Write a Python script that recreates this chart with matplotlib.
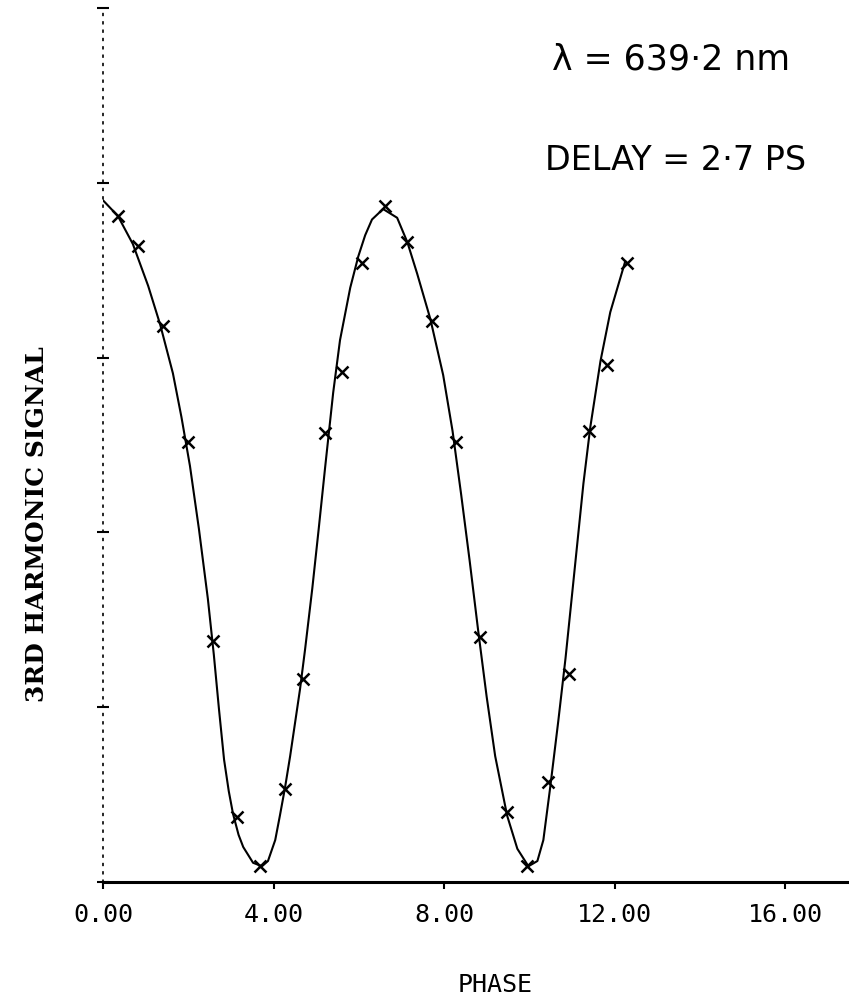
import matplotlib
matplotlib.use("Agg")
import matplotlib.pyplot as plt

# fitted curve (phase, signal)
curve_phase = [0.00, 0.35, 0.70, 1.06, 1.34, 1.64, 1.84, 2.04, 2.25, 2.46, 2.60,
               2.72, 2.84, 2.95, 3.05, 3.18, 3.29, 3.52, 3.73, 3.87, 4.04, 4.15,
               4.27, 4.39, 4.62, 4.74, 4.91, 5.06, 5.21, 5.40, 5.56, 5.80, 5.99,
               6.15, 6.31, 6.57, 6.90, 7.14, 7.37, 7.68, 7.98, 8.20, 8.40, 8.60,
               8.80, 9.00, 9.20, 9.48, 9.72, 9.98, 10.19, 10.33, 10.49, 10.68,
               10.85, 11.01, 11.27, 11.43, 11.67, 11.90, 12.25]
curve_signal = [3.90, 3.81, 3.65, 3.41, 3.19, 2.91, 2.66, 2.38, 2.02, 1.62, 1.30,
                0.99, 0.70, 0.52, 0.39, 0.27, 0.20, 0.11, 0.09, 0.12, 0.24, 0.38,
                0.54, 0.72, 1.10, 1.33, 1.68, 2.02, 2.37, 2.80, 3.10, 3.40, 3.58,
                3.70, 3.79, 3.85, 3.80, 3.66, 3.48, 3.22, 2.90, 2.58, 2.22, 1.84,
                1.44, 1.06, 0.72, 0.38, 0.19, 0.09, 0.12, 0.24, 0.54, 0.92,
                1.28, 1.66, 2.28, 2.60, 2.98, 3.26, 3.55]

# measured points (x markers)
meas_phase = [0.35, 0.82, 1.41, 2.00, 2.58, 3.15, 3.69, 4.27, 4.69, 5.21, 5.61,
              6.08, 6.62, 7.14, 7.72, 8.29, 8.85, 9.48, 9.95, 10.45, 10.92,
              11.41, 11.83, 12.30]
meas_signal = [3.81, 3.64, 3.18, 2.52, 1.38, 0.37, 0.09, 0.53, 1.16, 2.57, 2.92,
               3.54, 3.87, 3.66, 3.21, 2.52, 1.40, 0.40, 0.09, 0.57, 1.19,
               2.58, 2.96, 3.54]

xtick_values = [0, 4, 8, 12, 16]
xtick_labels = ["0.00", "4.00", "8.00", "12.00", "16.00"]
ytick_values = [0, 1, 2, 3, 4, 5]

W, H = 849, 1007
fig = plt.figure(figsize=(W / 100, H / 100), dpi=100)
ax = fig.add_axes([103 / W, 1 - 882 / H, 1 - 103 / W, (882 - 8) / H])

ax.plot(curve_phase, curve_signal, color="black", lw=1.5)
ax.plot(meas_phase, meas_signal, ls="none", marker="x", ms=8, mew=1.8,
        color="black")

ax.set_xlim(0, 17.5)
ax.set_ylim(0, 5)

ax.spines["top"].set_visible(False)
ax.spines["right"].set_visible(False)
ax.spines["bottom"].set_linewidth(2.2)
ax.spines["left"].set_linewidth(1.2)
ax.spines["left"].set_linestyle((0, (1, 4)))

ax.set_xticks(xtick_values)
ax.set_xticklabels(xtick_labels, family="DejaVu Sans Mono", fontsize=18)
ax.set_yticks(ytick_values)
ax.set_yticklabels([])
ax.tick_params(axis="x", direction="out", length=5, width=1.5, pad=10)
ax.tick_params(axis="y", direction="inout", length=9, width=1.5)

fig.text(495 / W, 1 - 985 / H, "PHASE", family="DejaVu Sans Mono",
         fontsize=18, ha="center", va="center")
fig.text(37 / W, 1 - 524 / H, "3RD HARMONIC SIGNAL", family="DejaVu Serif",
         fontweight="bold", fontsize=18, rotation=90, ha="center", va="center")

fig.text(552 / W, 1 - 60 / H, "λ = 639·2 nm", fontsize=25,
         ha="left", va="center")
fig.text(545 / W, 1 - 160 / H, "DELAY = 2·7 PS", fontsize=24,
         ha="left", va="center")

fig.savefig("out.png", dpi=100)
